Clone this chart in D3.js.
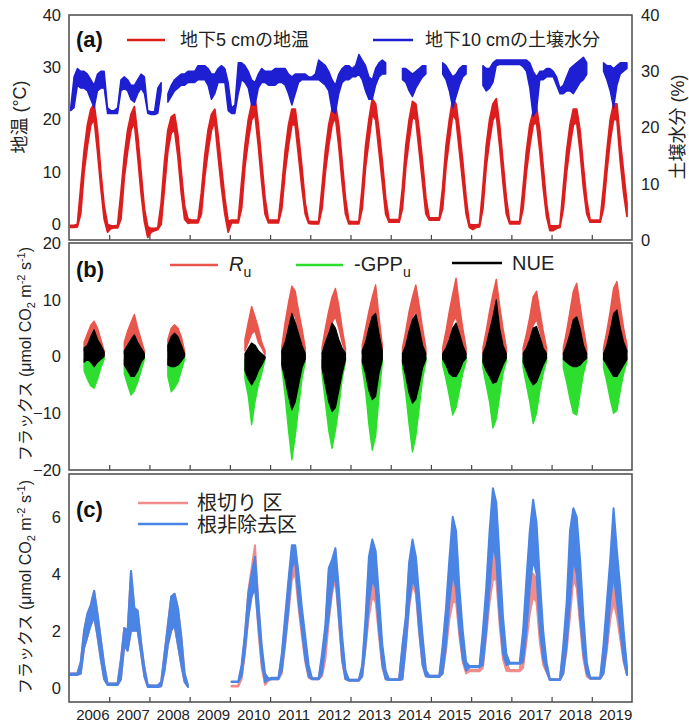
<!DOCTYPE html>
<html><head><meta charset="utf-8">
<script src="https://cdn.jsdelivr.net/npm/d3@7"></script>
<style>
body{margin:0;background:#fff;}
svg{display:block;font-family:"Liberation Sans",Arial,"Noto Sans CJK JP",sans-serif;}
</style></head><body>
<svg id="chart" width="689" height="724"></svg>
<script>
// ---------------- DATA (monthly envelopes) ----------------
const years = [2006,2007,2008,2009,2010,2011,2012,2013,2014,2015,2016,2017,2018,2019];
const xTickYears = [2007,2008,2009,2010,2011,2012,2013,2014,2015,2016,2017,2018,2019];
const tickA = [0,10,20,30,40];
const tickB = [-20,-10,0,10,20];
const tickC = [0,2,4,6];

// (a) soil temperature at 5 cm (°C), Jan..Dec per year
const tempLo = [
[-0.6,-0.6,-0.5,2,10,15,19,20,14,7,1,-1.5],
[-0.8,-0.7,-0.7,1,9,14,18,19.5,13,6,0.5,-2.5],
[-1.5,-1.2,-1,0,7,14,17.5,18,13,6,1,0.2],
[0.3,0.3,0.3,2,9,14,18,19.5,13,7,2,-1.5],
[0.3,0.3,0.3,3,11,16,20,21,15,8,2,0.3],
[0.3,0.3,0.3,3,10,15,19,19,13,7,2,0.2],
[0.1,0.1,0.1,3,10,15,19,20.5,15,8,2,0.1],
[0.1,0.1,0.1,3,11,16,21,20,14,8,2,0.4],
[0.4,0.4,0.4,3,11,16,20.5,20,14,8,2,0.8],
[0.8,0.8,0.8,3,11,16,21,20,14,8,2,-0.6],
[-1,-0.6,-0.5,3,11,16,20,21,15,8,2,0.1],
[0.1,0.1,0.1,3,10,15,19,19.5,14,7,1.5,-1.2],
[-1.2,-0.8,-0.6,3,10,15,19,19.5,14,7,2,0.4],
[0.4,0.4,0.4,3,10,16,20,20,12,6,1.5,null]
];
const tempHi = [
[-0.2,-0.2,0,7,14,19,22,23,18,10,3.5,0],
[-0.3,-0.3,-0.2,6,13,18,21,22.5,17,10,3,-0.5],
[-0.8,-0.8,-0.7,4,12,18,20.5,21,17,10,3.5,1],
[0.8,0.8,0.8,6,13,18,21,22,17,11,5,0.5],
[0.8,0.8,0.8,8,15,20,23,24.5,19,12,5,0.8],
[0.8,0.8,0.8,7,14,19,22,22,17,11,4,0.6],
[0.5,0.5,0.5,7,14,19,22,23,19,12,5,0.6],
[0.5,0.5,0.5,7,15,20,24,23,18,12,5,0.9],
[0.9,0.9,0.9,7,15,20,23.5,23,18,12,5,1.2],
[1.2,1.2,1.2,7,15,20,24,23,18,12,5,0],
[-0.1,-0.1,0,7,15,20,23,24,19,12,5,0.5],
[0.5,0.5,0.5,7,14,19,21.5,22.5,18,11,4,-0.3],
[-0.3,-0.3,-0.2,7,14,19,22,22,18,11,4.5,0.8],
[0.8,0.8,0.8,7,14,20,23,23,16,10,4,null]
];
// (a) soil water content at 10 cm (%), Jan..Dec per year
const moistLo = [
[23,23.5,27.5,27,27,26.5,25,23.5,26.5,27,27,22.5],
[22.5,22.5,22.5,26.5,27,26.5,25,24.5,26,27,26,22.5],
[22.3,22.3,22.5,26.5,null,24.5,25.5,26.5,27,27.5,27.5,28],
[28,28,28.5,28.5,28.5,27.5,25,26,28,28,28,23],
[22.5,22.5,26,28.5,28,27,24,24,27,28,28,27.5],
[27.5,27.5,28,28,27.5,26,24,26,28,28.5,28.5,28.5],
[28.5,28.5,28.5,28,27.5,26.5,23,22.5,26,28,28.5,28.5],
[29,29,29.5,28.5,26.5,25,25,27.5,29,29.5,29.5,null],
[null,null,null,28.5,28,26.5,25.5,27,28,29,29.5,null],
[null,null,null,29.5,28.5,26.5,23.5,25.5,27.5,29,29.5,null],
[null,null,null,27.5,26.5,27,28,31,31.2,31.2,31.2,31.2],
[31.2,31.2,31.2,30.8,30,27,22,23,28.5,28.5,29,29],
[29,27.5,26,26,26.5,26.5,26,27,28,28.5,29.5,null],
[null,null,null,30,28.5,26.5,23.5,27.5,29.5,30,30.5,null]
];
const moistHi = [
[23.5,29,30.5,30,30,29.5,28.5,27.5,29.5,30,30,23.5],
[23,23,23.5,28.5,29,28.5,27.5,27.5,28.5,29.5,29,23],
[22.8,22.8,27,28,null,26,27.5,28.5,29,29.5,29.5,30],
[30,30,31,31,31,30.5,29.5,29.5,30.5,31,30.5,28],
[23.5,24,31.5,31.5,31,30,28.5,28,29.5,30.5,30,30],
[30,30.5,30.5,30.5,30.5,29.5,29,29.5,29.5,29.5,29.5,29],
[29,29.5,32,31.5,31,30,28.5,27.5,29.5,30.5,31,31],
[30.5,31,33,32,31,29,28.5,30.5,31.5,32,31.5,null],
[null,null,null,30.5,30.5,30,29.5,30,30.5,31,31,null],
[null,null,null,31.5,31,30,29,29.5,30.5,31,31,null],
[null,null,null,31,30.5,30.5,31.5,32,32,32,32,32],
[32,32,32,32,32,31.5,30,29,30,30,30.5,30.5],
[30,29,27,27.5,29,30.5,31,31.5,32,32.5,31.5,null],
[null,null,null,31.5,31,31,30.5,31,31.5,31.5,31.5,null]
];

// (b) growing-season fluxes: first month of each season, then monthly envelopes
const fluxYears = [2006,2007,2008,2010,2011,2012,2013,2014,2015,2016,2017,2018,2019];
const fluxStart = [5,5,6,5,4,4,4,4,4,4,4,4,4];
const ruHi = [
[2.5,4,5.5,6.2,5,3,1],
[2.5,4.5,6,7.4,5,3,1],
[3,5,5.6,5,3.5,1],
[3,6,8.8,7,5,2.5,1],
[1.8,6,9.5,12.4,11.5,8,5,1.5],
[1.5,5,8,10.5,12,9,5,1.5],
[2,5,8,10.5,12.6,7,2],
[1.5,4.5,8,10.5,12.6,9,5,1.5],
[1.5,4.5,8,11,13.8,9,5,1.5],
[1.5,4.5,8,11,13.6,9,5,1.5],
[1.5,4,7,10.5,11.5,8,4.5,1.5],
[1.5,4.5,8,11.5,12.9,9,5,1.5],
[1.5,4.5,8,12,13.2,9,5,2]
];
const ruLo = [
[1,2,3,3.5,2.5,1.5,0.3],
[0.5,2,3,3.8,3,1.5,0.3],
[1,2.5,3.5,3,2,0.3],
[1,2.5,4,4.5,2.5,1.5,0.3],
[0.5,2.5,5,7.6,7,4,2,0.3],
[0.5,2,4,6,7,5,2.5,0.5],
[0.5,2,4,7,8,4,1],
[0.5,2,4,7,8,5,2.5,0.5],
[0.5,1.5,3.5,6,7,4.5,2,0.5],
[0.5,2,4,7,9.5,5,2.5,0.5],
[0.5,2,3.5,5.5,6.5,4.5,2,0.5],
[0.5,2,4,6.5,7.5,5,2.5,0.5],
[0.5,2,4,7,8,5,2.5,0.8]
];
const gppHi = [
[-0.5,-0.8,-1,-1,-0.8,-0.5,-0.2],
[-0.5,-1,-1.5,-1.5,-1,-0.5,-0.2],
[-0.5,-1,-1,-1,-0.5,-0.2],
[-0.5,-1,-1,-1,-0.5,-0.3,-0.1],
[-0.5,-1,-1.5,-1.5,-1,-1,-0.5,-0.2],
[-0.5,-1,-1.5,-2,-1.5,-1,-0.5,-0.2],
[-0.5,-1,-2,-2,-1.5,-0.5,-0.2],
[-0.5,-1,-1.5,-2,-1.5,-1,-0.5,-0.2],
[-0.3,-0.8,-1.2,-1.5,-1.5,-1,-0.5,-0.2],
[-0.3,-1,-1.5,-2,-1.5,-1,-0.5,-0.2],
[-0.3,-0.8,-1.2,-1.5,-1.5,-1,-0.5,-0.2],
[-0.3,-0.8,-1.2,-1.5,-1.5,-1,-0.5,-0.2],
[-0.3,-0.8,-1.2,-1.5,-1.5,-1,-0.5,-0.2]
];
const gppLo = [
[-2.5,-4,-5.2,-5.6,-4,-2,-0.5],
[-3,-5,-6.8,-6,-4.5,-2.5,-0.5],
[-3.5,-6.2,-5.5,-4.5,-2.5,-0.5],
[-4,-7,-12,-8,-5,-3,-0.5],
[-2,-7,-13,-18.2,-14,-9,-4,-1],
[-3,-8,-13,-16.2,-13,-9,-4,-1],
[-2,-6,-12,-16.5,-14,-7,-1],
[-2,-6.5,-12,-16.8,-14,-9,-4,-1],
[-1.5,-4,-7,-10.3,-9,-6,-3,-0.8],
[-2,-5,-8,-12.6,-11,-7,-3,-0.8],
[-2,-5,-8,-11.8,-10,-6,-3,-0.8],
[-2,-4.5,-7.5,-10,-10.3,-6.5,-3,-0.8],
[-2,-4.5,-7.5,-10,-9.5,-6,-3,-1]
];
const nueHi = [
[1.5,2,3.5,4.7,3,2,0.8],
[1,2,3,3.8,2.5,1.5,0.5],
[2,3.5,4.1,3.5,2,0.5],
[0.5,1.5,2.4,2,1,0.5,0],
[1,2.5,5,7.6,6,4,2,0.5],
[0.5,2.5,4,5.9,5,3,1.5,0.5],
[1,2.5,5,7,7.6,4,1],
[0.5,2,4.5,6.5,7.4,5,2,0.5],
[0.5,1.5,3,5,5.9,4,2,0.5],
[0.5,2,4.5,7,10,5,2,0.5],
[0.5,1.5,3,5,5.3,3.5,1.5,0.5],
[0.5,2,4,6.5,7,5,2,0.5],
[0.5,2,4.5,7.5,8.2,5,2.5,1]
];
const nueLo = [
[-1,-0.5,-1,-1.8,-1,-0.5,0],
[-1.5,-2.5,-3.5,-3.5,-2.5,-1,-0.2],
[-1.5,-1.8,-1.8,-1.5,-0.8,0],
[-2.5,-4,-5,-4,-2.5,-1.5,-0.3],
[-1.5,-4,-7,-9.4,-8,-5,-2,-0.5],
[-2,-5,-8,-9.7,-9,-6,-3,-0.5],
[-1,-3,-6,-7.6,-7,-3,-0.5],
[-1,-3.5,-6.5,-8.2,-7.5,-5,-2,-0.5],
[-0.5,-1.5,-3,-3.5,-3.5,-2.5,-1,-0.3],
[-1,-2.5,-3.5,-4.7,-4.5,-3,-1.5,-0.3],
[-1,-2.5,-4,-5,-4.5,-3,-1.5,-0.3],
[-0.5,-1,-1.5,-1.8,-1.8,-1.5,-0.8,-0.3],
[-0.5,-1.5,-2.5,-3.5,-3.5,-2.5,-1.5,-0.5]
];

// (c) soil CO2 efflux, root-cut plot (pink) and control plot (blue), Jan..Dec
const cutLo = [
[0.45,0.45,0.45,0.5,1.4,1.8,2.2,2.5,1.8,1.0,0.3,0.1],
[0.1,0.1,0.1,0.3,1.5,1.3,2.0,2.0,2.0,1.2,0.4,0.03],
[0.03,0.03,0.03,0.05,0.6,1.5,2.0,2.2,1.5,0.8,0.2,0.03],
[null,null,null,null,null,null,null,null,null,null,null,null],
[0.04,0.04,0.04,0.3,1.2,2.4,3.3,3.8,2.0,0.7,0.1,0.25],
[0.3,0.3,0.3,0.5,1.5,2.6,3.8,4.0,2.8,1.8,0.9,0.35],
[0.3,0.3,0.3,0.4,1.0,2.3,3.3,3.8,2.4,0.9,0.3,0.25],
[0.25,0.25,0.25,0.4,1.4,2.5,3.2,3.0,1.8,0.7,0.3,0.27],
[0.27,0.27,0.27,0.3,1.4,2.8,3.6,3.3,1.9,0.8,0.4,0.38],
[0.38,0.38,0.38,0.5,1.3,2.4,3.0,3.0,1.8,0.9,0.5,0.58],
[0.58,0.58,0.58,0.7,1.8,3.0,3.8,3.8,2.2,1.0,0.6,0.58],
[0.58,0.58,0.58,0.7,1.6,2.6,3.2,3.0,1.6,0.8,0.55,0.27],
[0.27,0.27,0.27,0.5,1.3,2.5,3.8,3.5,2.2,1.0,0.4,0.32],
[0.32,0.32,0.32,0.5,1.3,2.4,3.0,2.5,1.7,0.9,0.45,null]
];
const cutHi = [
[0.5,0.5,0.5,0.9,2.0,2.6,2.9,3.4,2.6,1.7,0.8,0.15],
[0.15,0.15,0.15,1.0,2.1,2.0,4.1,2.8,2.7,1.6,0.7,0.1],
[0.08,0.08,0.08,0.2,1.2,2.2,3.2,3.3,2.8,1.8,0.5,0.08],
[null,null,null,null,null,null,null,null,null,null,null,null],
[0.07,0.07,0.07,0.7,1.8,3.4,4.2,5.0,3.0,1.3,0.3,0.3],
[0.33,0.33,0.33,1.1,2.3,3.6,4.8,4.9,3.8,2.6,1.6,0.7],
[0.33,0.33,0.33,1.0,2.0,4.0,4.4,4.8,3.3,1.6,0.5,0.28],
[0.28,0.28,0.28,0.7,2.2,3.6,3.9,3.7,2.6,1.3,0.5,0.3],
[0.3,0.3,0.3,1.4,2.4,4.2,5.0,4.5,3.0,1.7,0.6,0.42],
[0.42,0.42,0.42,1.3,2.4,3.6,4.3,4.0,2.8,1.7,0.8,0.62],
[0.62,0.62,0.62,1.8,3.0,4.5,5.0,4.8,3.5,2.0,0.9,0.62],
[0.62,0.62,0.62,1.8,3.0,4.0,4.0,3.8,2.8,1.6,0.6,0.3],
[0.3,0.3,0.3,1.3,2.6,4.6,5.2,5.4,4.0,2.2,0.8,0.35],
[0.35,0.35,0.35,1.3,2.6,3.6,3.9,3.6,3.0,1.8,0.65,null]
];
const ctrlLo = [
[0.45,0.45,0.45,0.5,1.4,1.8,2.2,2.5,1.8,1.0,0.3,0.1],
[0.1,0.1,0.1,0.3,1.5,1.3,2.0,2.0,2.0,1.2,0.4,0.03],
[0.03,0.03,0.03,0.05,0.6,1.5,2.0,2.2,1.5,0.8,0.2,0.03],
[null,null,null,null,null,null,null,null,null,null,null,null],
[0.2,0.2,0.2,0.4,1.3,2.5,3.2,3.5,2.2,0.9,0.2,0.28],
[0.3,0.3,0.3,0.6,1.6,2.8,4.2,4.5,3.0,2.0,1.0,0.4],
[0.3,0.3,0.3,0.5,1.5,2.5,3.5,4.0,2.5,1.0,0.3,0.25],
[0.25,0.25,0.25,0.4,1.5,3.0,3.8,3.5,2.0,0.8,0.3,0.27],
[0.27,0.27,0.27,0.3,1.5,3.0,3.8,3.5,2.0,0.8,0.4,0.38],
[0.38,0.38,0.38,0.5,1.5,3.0,4.0,3.5,2.0,1.0,0.6,0.72],
[0.72,0.72,0.72,0.8,2.0,3.5,5.0,4.5,2.5,1.2,0.8,0.84],
[0.84,0.84,0.84,0.9,2.0,3.5,4.5,4.0,2.0,1.0,0.6,0.27],
[0.27,0.27,0.27,0.5,1.5,3.0,4.5,4.0,2.5,1.2,0.5,0.32],
[0.32,0.32,0.32,0.5,1.5,3.0,4.0,3.0,2.0,1.0,0.45,null]
];
const ctrlHi = [
[0.5,0.5,0.5,0.9,2.0,2.6,2.9,3.4,2.6,1.7,0.8,0.15],
[0.15,0.15,0.15,1.0,2.1,2.0,4.1,2.8,2.7,1.6,0.7,0.1],
[0.08,0.08,0.08,0.2,1.2,2.2,3.2,3.3,2.8,1.8,0.5,0.08],
[null,null,null,null,null,null,null,null,null,null,null,null],
[0.22,0.22,0.22,0.8,1.9,3.3,4.0,4.6,3.0,1.5,0.5,0.32],
[0.35,0.35,0.35,1.2,2.5,3.8,5.0,5.0,4.0,2.8,1.8,0.8],
[0.33,0.33,0.33,1.2,2.2,4.2,4.5,4.9,3.5,1.8,0.6,0.28],
[0.28,0.28,0.28,0.8,2.5,4.6,5.2,4.8,3.2,1.5,0.6,0.3],
[0.3,0.3,0.3,1.5,2.5,4.4,5.2,4.6,3.2,1.8,0.6,0.42],
[0.42,0.42,0.42,1.5,2.8,4.5,6.0,5.5,3.5,2.0,0.9,0.76],
[0.76,0.76,0.76,2.0,3.5,5.5,7.0,6.5,4.5,2.5,1.2,0.88],
[0.88,0.88,0.88,2.0,3.8,5.5,6.6,5.8,3.8,2.0,0.9,0.3],
[0.3,0.3,0.3,1.5,3.0,5.5,6.3,6.0,4.5,2.5,0.9,0.35],
[0.35,0.35,0.35,1.5,3.0,4.5,6.3,4.8,3.5,2.0,0.7,null]
];

// ---------------- CHART ----------------
const svg = d3.select('#chart');
const L = 69, R = 632;
const P = {a:[15,240], b:[243,470], c:[474,702]};
const x = d3.scaleLinear().domain([2006,2020]).range([L,R]);
const yA = d3.scaleLinear().domain([-3,40]).range([P.a[1],P.a[0]]);
const yA2 = d3.scaleLinear().domain([0,40]).range([P.a[1],P.a[0]]);
const yB = d3.scaleLinear().domain([-20,20]).range([P.b[1],P.b[0]]);
const yC = d3.scaleLinear().domain([-0.5,7.5]).range([P.c[1],P.c[0]]);

const COL = {temp:'#dc1e1e', moist:'#1e1ed2', ru:'#e9564c', gpp:'#2ede2e', nue:'#000000', cut:'#f08c8c', ctrl:'#4a84e4'};

function monthly(lo, hi){
  const out = [];
  years.forEach((yr,i)=>{ for(let m=0;m<12;m++) out.push({t:yr+(m+0.5)/12, lo:lo[i][m], hi:hi[i][m]}); });
  return out;
}
function season(i, lo, hi){
  return lo[i].map((v,k)=>({t:fluxYears[i]+(fluxStart[i]-1+k+0.5)/12, lo:v, hi:hi[i][k]}));
}
function band(g, data, y, color, sw){
  const area = d3.area().defined(d=>d.lo!=null && d.hi!=null)
    .x(d=>x(d.t)).y0(d=>y(d.lo)).y1(d=>y(d.hi));
  g.append('path').datum(data).attr('d',area)
    .attr('fill',color).attr('stroke',color).attr('stroke-width',sw)
    .attr('stroke-linejoin','round');
}

// clip paths
Object.entries(P).forEach(([k,[t,b]])=>{
  svg.append('clipPath').attr('id','clip-'+k).append('rect')
    .attr('x',L).attr('y',t).attr('width',R-L).attr('height',b-t);
});

// panel a
const ga = svg.append('g').attr('clip-path','url(#clip-a)');
band(ga, monthly(tempLo,tempHi), yA, COL.temp, 1.8);
band(ga, monthly(moistLo,moistHi), yA2, COL.moist, 1.4);

// panel b
const gb = svg.append('g').attr('clip-path','url(#clip-b)');
fluxYears.forEach((yr,i)=>band(gb, season(i,ruLo,ruHi), yB, COL.ru, 1.4));
fluxYears.forEach((yr,i)=>band(gb, season(i,gppLo,gppHi), yB, COL.gpp, 1.4));
fluxYears.forEach((yr,i)=>band(gb, season(i,nueLo,nueHi), yB, COL.nue, 1.2));

// panel c
const gc = svg.append('g').attr('clip-path','url(#clip-c)');
band(gc, monthly(cutLo,cutHi), yC, COL.cut, 2);
band(gc, monthly(ctrlLo,ctrlHi), yC, COL.ctrl, 2);

// frames + x ticks
Object.entries(P).forEach(([k,[t,b]])=>{
  const ax = svg.append('g').attr('transform',`translate(0,${b})`)
    .call(d3.axisBottom(x).tickValues(xTickYears).tickSize(-5).tickFormat(''));
  ax.select('.domain').remove();
  ax.selectAll('line').attr('stroke','#444').attr('stroke-width',1.2);
  svg.append('rect').attr('x',L).attr('y',t).attr('width',R-L).attr('height',b-t)
    .attr('fill','none').attr('stroke','#4a4a4a').attr('stroke-width',1.5);
});

// y axes
function yAxis(axis, tx){
  const g = svg.append('g').attr('transform',`translate(${tx},0)`).call(axis);
  g.select('.domain').remove();
  g.selectAll('text').attr('font-size',16.5).attr('fill','#222')
    .attr('font-family','"Liberation Sans",Arial,sans-serif');
  return g;
}
yAxis(d3.axisLeft(yA).tickValues(tickA).tickSize(0).tickPadding(8), L);
yAxis(d3.axisRight(yA2).tickValues(tickA).tickSize(0).tickPadding(9), R);
yAxis(d3.axisLeft(yB).tickValues(tickB).tickSize(0).tickPadding(8), L);
yAxis(d3.axisLeft(yC).tickValues(tickC).tickSize(0).tickPadding(8), L);

// x labels
const xl = svg.append('g').attr('transform',`translate(0,${P.c[1]})`)
  .call(d3.axisBottom(x).tickValues(years.map(y=>y+0.58)).tickFormat(d=>Math.floor(d)).tickSize(0).tickPadding(7));
xl.select('.domain').remove();
xl.selectAll('text').attr('font-size',15).attr('fill','#222')
  .attr('font-family','"Liberation Sans",Arial,sans-serif');

// axis titles
function vlabel(cx, cy, size){
  return svg.append('text').attr('transform',`translate(${cx},${cy}) rotate(-90)`)
    .attr('text-anchor','middle').attr('dy','0.35em').attr('font-size',size).attr('fill','#222');
}
vlabel(20,117,18).text('地温 (°C)');
vlabel(678,127,18).text('土壌水分 (%)');
function fluxLabel(cy){
  const t = vlabel(25, cy, 16);
  t.append('tspan').text('フラックス (μmol CO');
  t.append('tspan').attr('font-size',11).attr('dy',4).text('2');
  t.append('tspan').attr('dy',-4).text(' m');
  t.append('tspan').attr('font-size',11).attr('dy',-6).text('-2');
  t.append('tspan').attr('dy',6).text(' s');
  t.append('tspan').attr('font-size',11).attr('dy',-6).text('-1');
  t.append('tspan').attr('dy',6).text(')');
}
fluxLabel(354);
fluxLabel(587);

// panel letters
[['(a)',39],['(b)',269],['(c)',509]].forEach(([s,cy])=>{
  svg.append('text').attr('x',76).attr('y',cy).attr('dy','0.35em')
    .attr('font-size',22).attr('font-weight','bold').attr('fill','#111').text(s);
});

// legends
function legLine(x1,x2,y,color){
  svg.append('line').attr('x1',x1).attr('x2',x2).attr('y1',y).attr('y2',y)
    .attr('stroke',color).attr('stroke-width',2.5);
}
function legText(xp,y,size){
  return svg.append('text').attr('x',xp).attr('y',y).attr('dy','0.35em')
    .attr('font-size',size).attr('fill','#222');
}
legLine(127,165,40,COL.temp); legText(180,40,18).text('地下5 cmの地温');
legLine(373,413,40,COL.moist); legText(425,40,18).text('地下10 cmの土壌水分');

legLine(170,218,265,COL.ru);
let t1 = legText(229,264,20);
t1.append('tspan').attr('font-style','italic').text('R');
t1.append('tspan').attr('font-size',14).attr('dy',6).text('u');
legLine(296,343,265,COL.gpp);
let t2 = legText(354,264,20);
t2.append('tspan').text('-GPP');
t2.append('tspan').attr('font-size',14).attr('dy',6).text('u');
legLine(452,502,263,COL.nue); legText(512,263,20).text('NUE');

legLine(138,188,503,COL.cut); legText(197,503,20).text('根切り 区');
legLine(138,188,524,COL.ctrl); legText(197,525,20).text('根非除去区');
</script>
</body></html>
